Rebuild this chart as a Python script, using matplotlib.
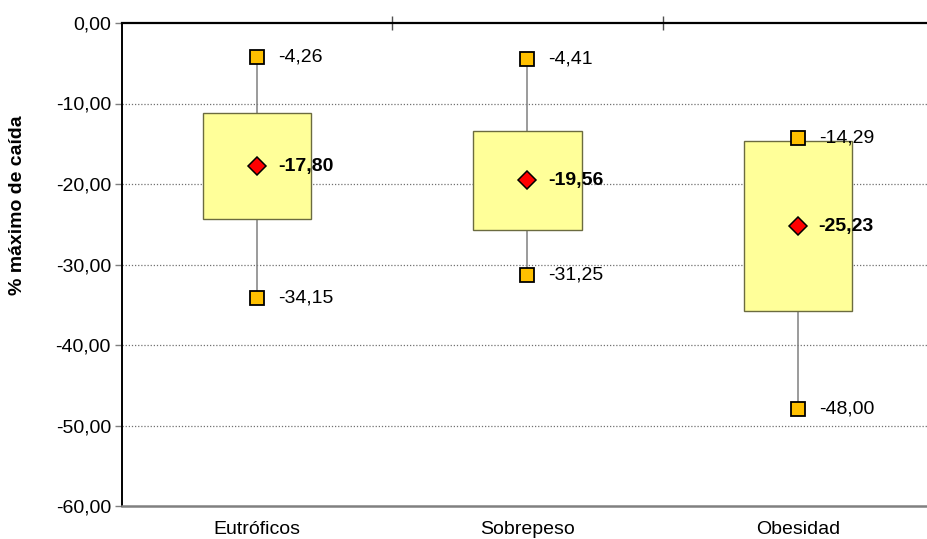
import matplotlib.pyplot as plt
import numpy as np

plt.rcParams['font.family'] = ['Liberation Sans', 'DejaVu Sans']

grupos = ['Eutróficos', 'Sobrepeso', 'Obesidad']
maximos = np.array([-4.26, -4.41, -14.29])
minimos = np.array([-34.15, -31.25, -48.00])
medias = np.array([-17.80, -19.56, -25.23])
caja_sup = np.array([-11.2, -13.4, -14.7])
caja_inf = np.array([-24.3, -25.7, -35.8])

FS = 14

fig = plt.figure(figsize=(9.27, 5.39), dpi=100)
ax = fig.add_axes([122 / 927, 1 - 506 / 539, 811 / 927, 483 / 539])

X = np.arange(len(grupos))

# bigotes
ax.vlines(X, caja_sup, maximos, color='#808080', lw=1.1, zorder=2)
ax.vlines(X, minimos, caja_inf, color='#808080', lw=1.1, zorder=2)

# cajas
ax.bar(X, caja_sup - caja_inf, bottom=caja_inf, width=0.4,
       facecolor='#FFFF99', edgecolor='#6b6b40', lw=1, zorder=3)

# max / min
ax.plot(X, maximos, 's', ms=10, mfc='#FFC000', mec='black', mew=1.3, zorder=5, clip_on=False)
ax.plot(X, minimos, 's', ms=10, mfc='#FFC000', mec='black', mew=1.3, zorder=5, clip_on=False)
# medias
ax.plot(X, medias, 'D', ms=9.5, mfc='#FF0000', mec='black', mew=1.1, zorder=5)

def fmt(v):
    return f'{v:.2f}'.replace('.', ',')

for x, v in zip(X, maximos):
    ax.annotate(fmt(v), (x, v), xytext=(15, 0), textcoords='offset points',
                va='center', ha='left', fontsize=FS, zorder=6)
for x, v in zip(X, minimos):
    ax.annotate(fmt(v), (x, v), xytext=(15, 0), textcoords='offset points',
                va='center', ha='left', fontsize=FS, zorder=6)
for x, v in zip(X, medias):
    ax.annotate(fmt(v), (x, v), xytext=(15, 0), textcoords='offset points',
                va='center', ha='left', fontsize=FS, fontweight='bold', zorder=6)

ax.set_xlim(-0.5, 2.5)
ax.set_ylim(-60, 0)

yt = np.arange(-60, 1, 10)
ax.set_yticks(yt)
ax.set_yticklabels([fmt(v) for v in yt], fontsize=FS)
ax.tick_params(axis='y', direction='out', length=5, width=1, color='#808080', pad=3)

# separadores de categoria arriba, nombres abajo
ax.set_xticks([0.5, 1.5])
ax.set_xticks(X, minor=True)
ax.set_xticklabels(grupos, minor=True, fontsize=FS)
ax.tick_params(axis='x', which='major', top=True, bottom=False, labelbottom=False,
               direction='inout', length=10, width=1, color='#505050')
ax.tick_params(axis='x', which='minor', length=0, pad=11)

for v in yt[1:-1]:
    ax.axhline(v, color='#707070', lw=0.9, ls=(0, (1, 1.5)), zorder=1)

ax.spines['top'].set_color('black')
ax.spines['top'].set_linewidth(1.6)
ax.spines['left'].set_color('black')
ax.spines['left'].set_linewidth(1.4)
ax.spines['bottom'].set_color('#808080')
ax.spines['bottom'].set_linewidth(1.8)
ax.spines['right'].set_visible(False)

fig.text(18 / 927, 1 - 205 / 539, '% máximo de caída', rotation=90, fontsize=FS,
         fontweight='bold', ha='center', va='center')

fig.savefig('out.png', dpi=100)
